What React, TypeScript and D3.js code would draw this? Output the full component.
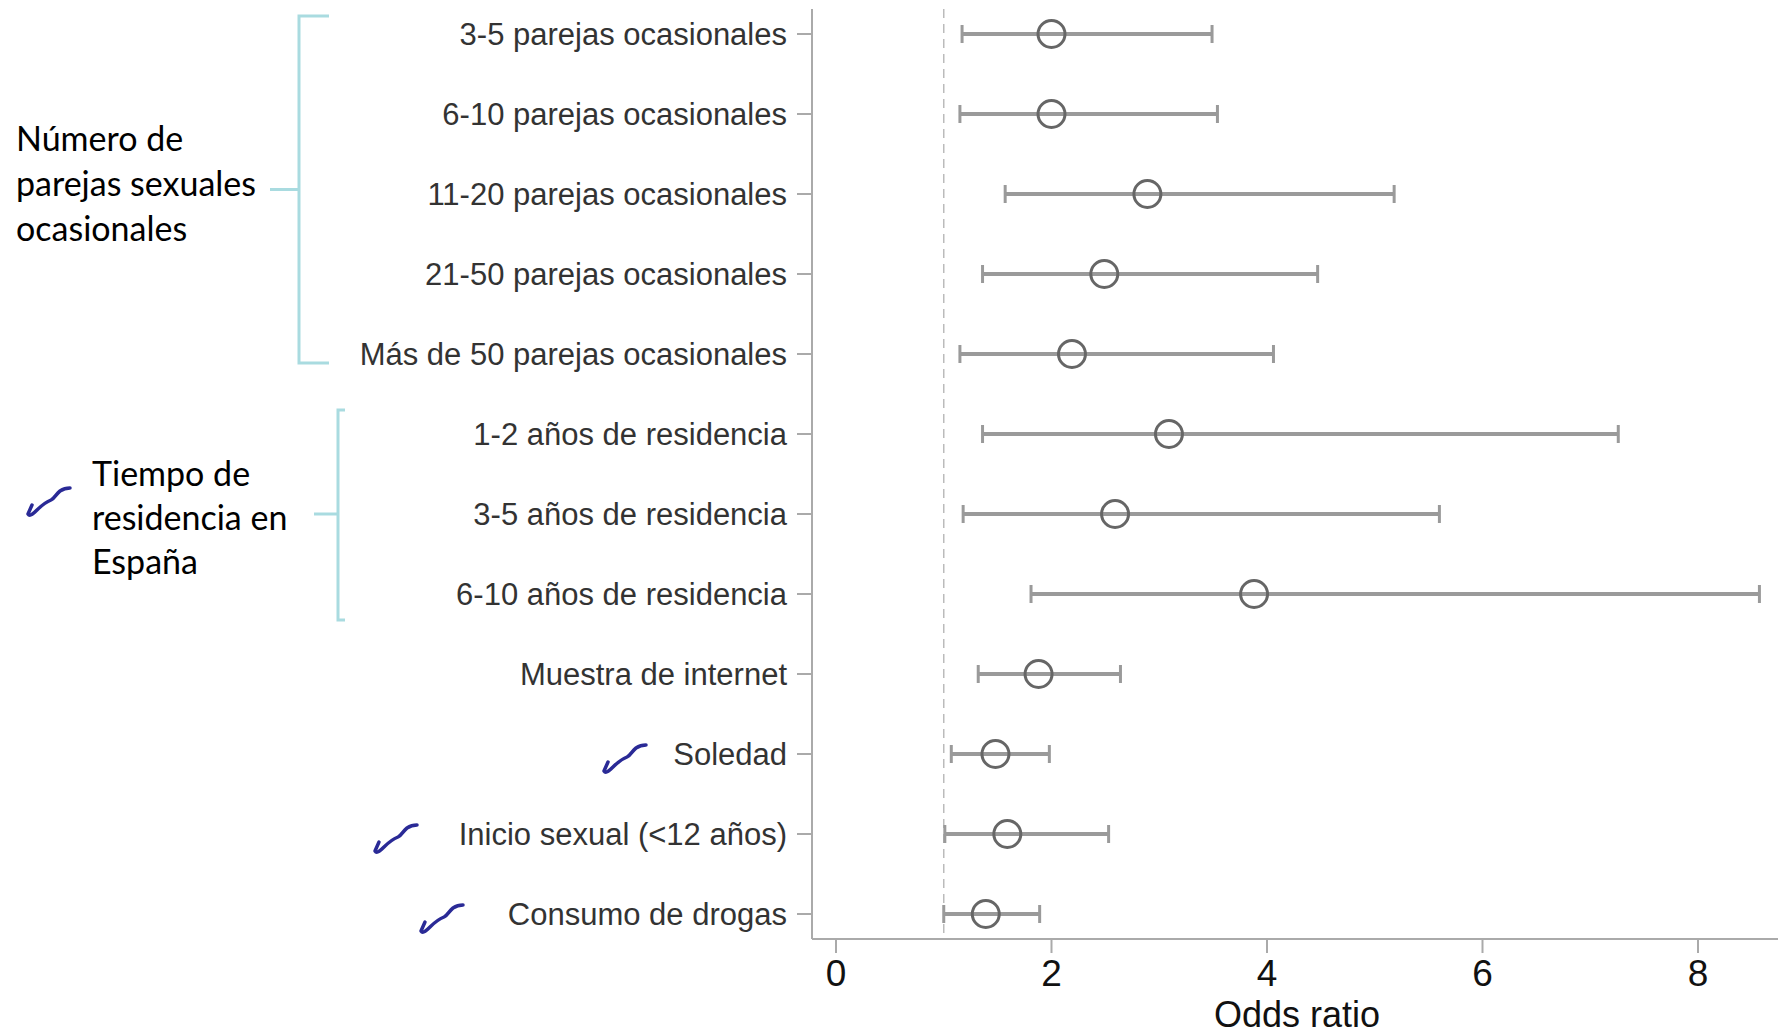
import React, { useEffect } from 'react';
import * as d3 from 'd3';

// categories from top to bottom
const categories = [
  '3-5 parejas ocasionales',
  '6-10 parejas ocasionales',
  '11-20 parejas ocasionales',
  '21-50 parejas ocasionales',
  'Más de 50 parejas ocasionales',
  '1-2 años de residencia',
  '3-5 años de residencia',
  '6-10 años de residencia',
  'Muestra de internet',
  'Soledad',
  'Inicio sexual (<12 años)',
  'Consumo de drogas',
];
const oddsRatio = [2.0, 2.0, 2.89, 2.49, 2.19, 3.09, 2.59, 3.88, 1.88, 1.48, 1.59, 1.39];
const ciLow = [1.17, 1.15, 1.57, 1.36, 1.15, 1.36, 1.18, 1.81, 1.32, 1.07, 1.01, 1.0];
const ciHigh = [3.49, 3.54, 5.18, 4.47, 4.06, 7.26, 5.6, 8.57, 2.64, 1.98, 2.53, 1.89];
const xTicks = [0, 2, 4, 6, 8];
const refLine = 1;

// side annotations
const groupParejas = ['Número de', 'parejas sexuales', 'ocasionales'];
const groupResidencia = ['Tiempo de', 'residencia en', 'España'];
const checked = ['Soledad', 'Inicio sexual (<12 años)', 'Consumo de drogas'];

const W = 1778;
const H = 1036;
const axisX = 812;
const axisTop = 9;
const axisBottom = 939;

const CHECK = 'M5,19 L1,28 C3,31 7,27 10,24 C15,19 19,16 24,14 C28,12 29,8 33,5 C36,3 40,2 43,2';

const Check = ({ x, y }: { x: number; y: number }) => (
  <path d={CHECK} transform={`translate(${x},${y})`} fill="none" stroke="#2a2a96"
    strokeWidth={3.5} strokeLinecap="round" strokeLinejoin="round" />
);

const App = () => {
  useEffect(() => {
    document.body.style.margin = '0';
  }, []);

  const x = d3.scaleLinear().domain([0, 8]).range([836, 1698]);
  const y = d3.scalePoint<string>().domain(categories).range([34, 914]);

  const labelFont = '"Liberation Sans", Arial, sans-serif';
  const noteFont = 'Lato, "Open Sans", sans-serif';
  const teal = '#a9dbe0';

  // bracket extents from category positions
  const b1Top = y(categories[0])! - 18;
  const b1Bot = y(categories[4])! + 9;
  const b1Mid = (b1Top + b1Bot) / 2;
  const b2Top = y(categories[5])! - 24;
  const b2Bot = y(categories[7])! + 26;
  const b2Mid = y(categories[6])!;

  return (
    <svg width={W} height={H} style={{ display: 'block', background: '#fff' }}>
      {/* axes */}
      <line x1={axisX} x2={axisX} y1={axisTop} y2={axisBottom} stroke="#aaa" strokeWidth={2} />
      <line x1={axisX} x2={W} y1={axisBottom} y2={axisBottom} stroke="#aaa" strokeWidth={2} />
      {xTicks.map((t) => (
        <g key={t}>
          <line x1={x(t)} x2={x(t)} y1={axisBottom} y2={axisBottom + 14} stroke="#aaa" strokeWidth={2} />
          <text x={x(t)} y={986} textAnchor="middle" fontFamily={labelFont} fontSize={37} fill="#111">{t}</text>
        </g>
      ))}
      <text x={1297} y={1027} textAnchor="middle" fontFamily={labelFont} fontSize={36} fill="#111">Odds ratio</text>

      {/* reference line at OR = 1 */}
      <line x1={x(refLine)} x2={x(refLine)} y1={axisTop} y2={axisBottom} stroke="#bbb"
        strokeWidth={1.5} strokeDasharray="9,6" />

      {/* rows */}
      {categories.map((c, i) => {
        const cy = y(c)!;
        return (
          <g key={c}>
            <line x1={axisX - 15} x2={axisX} y1={cy} y2={cy} stroke="#aaa" strokeWidth={2} />
            <text x={787} y={cy} dy="0.36em" textAnchor="end" fontFamily={labelFont} fontSize={31} fill="#333">{c}</text>
            <line x1={x(ciLow[i])} x2={x(ciHigh[i])} y1={cy} y2={cy} stroke="#9a9a9a" strokeWidth={4} />
            <line x1={x(ciLow[i])} x2={x(ciLow[i])} y1={cy - 9} y2={cy + 9} stroke="#9a9a9a" strokeWidth={3} />
            <line x1={x(ciHigh[i])} x2={x(ciHigh[i])} y1={cy - 9} y2={cy + 9} stroke="#9a9a9a" strokeWidth={3} />
            <circle cx={x(oddsRatio[i])} cy={cy} r={13.5} fill="none" stroke="#666" strokeWidth={3} />
          </g>
        );
      })}

      {/* group brackets */}
      <path d={`M329,${b1Top} H299 V${b1Bot} H329`} fill="none" stroke={teal} strokeWidth={3} />
      <line x1={270} x2={299} y1={b1Mid} y2={b1Mid} stroke={teal} strokeWidth={3} />
      <path d={`M345,${b2Top} H338 V${b2Bot} H345`} fill="none" stroke={teal} strokeWidth={3} />
      <line x1={314} x2={338} y1={b2Mid} y2={b2Mid} stroke={teal} strokeWidth={3} />

      {groupParejas.map((t, i) => (
        <text key={t} x={16} y={151 + i * 45} fontFamily={noteFont} fontSize={34} fill="#000">{t}</text>
      ))}
      {groupResidencia.map((t, i) => (
        <text key={t} x={92} y={486 + i * 44} fontFamily={noteFont} fontSize={34} fill="#000">{t}</text>
      ))}

      {/* hand-drawn ticks */}
      <Check x={27} y={486} />
      {checked.map((c) => {
        const cy = y(c)!;
        const offs: Record<string, number> = { 'Soledad': 603, 'Inicio sexual (<12 años)': 374, 'Consumo de drogas': 420 };
        return <Check key={c} x={offs[c]} y={cy - 11} />;
      })}
    </svg>
  );
};

export default App;
